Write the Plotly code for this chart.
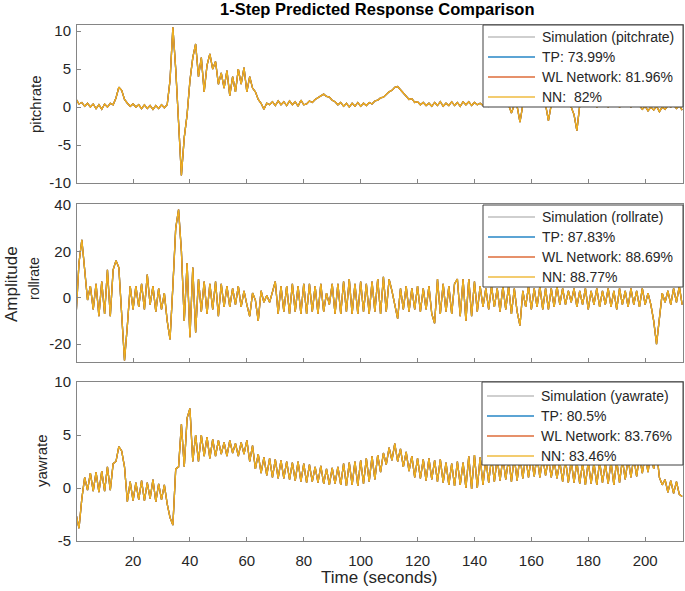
import plotly.graph_objects as go

# ---------------- data ----------------
TIME = list(range(0, 214))  # seconds, 1 s grid

PITCH = [
    1.0, 0.4, 0.6, 0.1, 0.5, 0.0, 0.4, -0.2, 0.3, -0.3,
    0.4, 0.0, 0.5, 0.3, 1.2, 2.6, 2.2, 1.0, 0.5, 0.1,
    0.4, 0.0, 0.3, -0.2, 0.3, -0.2, 0.2, -0.3, 0.2, -0.2,
    0.3, -0.1, 0.3, 3.5, 10.5, 5.0, -2.0, -9.0, -4.0, -1.0,
    3.5, 6.5, 8.3, 4.0, 6.5, 2.0, 5.5, 7.0, 5.0, 6.0,
    3.0, 4.5, 2.5, 4.8, 1.5, 4.0, 2.0, 5.0, 3.0, 5.2,
    2.0, 4.0, 2.5, 2.0, 1.0, 0.5, -0.3, 0.5, 0.3, 0.7,
    0.2, 0.8, 0.3, 0.7, 0.2, 0.8, 0.3, 0.7, 0.1, 0.9,
    0.3, 0.4, 0.8, 0.6, 1.0, 1.2, 1.4, 1.7, 1.4, 1.3,
    0.9, 0.7, 0.3, 0.6, 0.1, 0.5, 0.0, 0.5, 0.1, 0.6,
    0.1, 0.5, 0.2, 0.6, 0.4, 0.8, 0.9, 1.2, 1.3, 1.7,
    2.0, 2.2, 2.6, 2.7, 2.3, 1.8, 1.5, 1.0, 1.1, 0.6,
    0.7, 0.3, 0.6, 0.2, 0.5, 0.1, 0.6, 0.2, 0.7, 0.1,
    0.5, 0.2, 0.7, 0.2, 0.6, 0.1, 0.7, 0.3, 0.7, 0.2,
    0.6, 0.3, 0.5, 0.2, 0.5, 0.1, 0.4, 0.2, 0.4, 0.1,
    0.4, 0.2, 0.3, -0.8, 0.3, 0.1, -2.0, 0.3, 0.1, 0.4,
    0.2, 0.4, 0.1, 0.4, 0.2, 0.3, -1.8, 0.3, 0.2, 0.4,
    0.1, 0.4, 0.2, 0.3, 0.0, -1.0, -3.1, 0.2, 0.4, 0.1,
    0.3, 0.1, 0.4, 0.0, 0.3, 0.1, 0.3, 0.0, 0.3, 0.1,
    0.4, 0.0, 0.3, 0.1, 0.3, 0.0, 0.3, 0.1, 0.2, -0.3,
    0.1, -0.5, 0.0, -0.4, 0.1, -0.6, 0.0, -0.3, 0.2, 0.0,
    0.3, -0.2, 0.2, -0.4,
]

ROLL = [
    -7, 15, 25, 12, -1, 5, -5, 6, -8, 7,
    -7, 12, -8, 12, 16, 13, -8, -27, -12, 5,
    -5, 5, -4, 6, -5, 10, -3, 5, -6, 4,
    -5, 2, -10, -18, 5, 30, 38, 20, -10, 15,
    -17, 13, -15, 8, -6, 7, -7, 6, -5, 7,
    -8, 6, -4, 5, -4, 4, -3, 5, -4, 3,
    -3, -8, 2, -1, -10, 3, -2, 1, -2, 2,
    7, -7, 5, -6, 5, -7, 6, -6, 5, -7,
    6, -7, 6, -6, 5, -7, 6, -6, 2, -3,
    6, -7, 6, -7, 7, -6, 8, -7, 6, -7,
    7, -6, 6, -7, 7, -6, 8, -7, 9, -6,
    8, 3, -3, -9, 4, -5, 5, -6, 4, -5,
    5, -6, 4, -5, 5, -7, -11, 8, -7, 6,
    -6, 5, -7, 6, 8, -8, 8, -10, 8, -8,
    7, -6, 5, -4, 4, -5, 5, -4, 4, -6,
    5, -5, 5, -7, 4, -6, -12, 3, -4, 5,
    -5, 4, -4, 5, -5, 4, -5, 4, -4, 5,
    -3, 4, -3, 3, -2, 4, -4, 3, -3, 4,
    -5, 3, -3, 4, -4, 3, -3, 4, -4, 3,
    -5, 4, -3, 3, -4, 4, -3, 3, -4, 4,
    -3, 2, -3, -10, -20, -8, 2, -2, 3, -3,
    4, -2, 5, -3,
]

YAW = [
    -2.5, -3.8, -1.0, 1.0, -0.2, 1.4, -0.3, 1.5, -0.4, 1.6,
    -0.3, 2.0, -0.2, 2.3, 2.5, 3.9, 3.5, 2.0, -1.3, 0.6,
    -1.2, 0.5, -1.1, 0.7, -1.2, 0.5, -1.0, 0.8, -1.3, 0.4,
    -1.1, 0.3, -1.5, -2.8, -3.5, 1.8, 2.0, 6.0, 2.0, 6.6,
    7.5, 2.5, 5.0, 2.5, 5.0, 3.0, 4.8, 2.8, 4.6, 3.0,
    4.5, 3.2, 4.3, 3.0, 4.5, 3.3, 4.2, 3.0, 4.3, 3.2,
    4.5, 2.5, 4.0, 1.8, 3.2, 1.4, 2.9, 1.2, 2.8, 1.0,
    2.7, 0.9, 2.6, 0.9, 2.5, 0.8, 2.4, 0.7, 2.5, 0.6,
    2.3, 0.5, 2.2, 0.6, 2.0, 0.5, 2.1, 0.4, 1.8, 0.3,
    1.9, 0.4, 2.0, 0.3, 2.3, 0.2, 2.4, 0.3, 2.5, 0.2,
    2.6, 0.4, 2.8, 0.6, 3.0, 0.8, 3.1, 1.5, 3.3, 2.2,
    3.8, 2.6, 4.2, 2.5, 3.7, 2.0, 3.4, 1.6, 3.0, 1.0,
    2.8, 0.9, 2.7, 0.7, 2.8, 0.8, 2.6, 0.6, 2.7, 0.5,
    2.4, 0.3, 2.3, 0.2, 2.5, 0.3, 2.4, 0.0, 3.0, -0.1,
    3.1, 0.0, 2.9, 0.3, 2.8, 0.5, 2.9, 0.6, 2.8, 0.7,
    2.9, 0.8, 2.8, 0.6, 2.9, 0.7, 3.0, 0.9, 3.0, 1.0,
    2.9, 1.1, 3.0, 1.0, 2.9, 1.2, 2.8, 1.0, 2.6, 0.9,
    2.5, 0.6, 2.7, 0.5, 2.6, 0.5, 2.5, 0.4, 2.4, 0.3,
    2.5, 0.4, 2.4, 0.3, 2.5, 0.5, 2.3, 0.4, 2.5, 0.3,
    2.6, 0.5, 2.7, 0.8, 2.8, 1.0, 2.9, 1.1, 3.0, 1.4,
    3.1, 1.5, 3.3, 1.8, 3.5, 1.0, 0.3, 0.8, -0.4, 0.7,
    -0.5, 0.6, -0.6, -0.8,
]

CHANNELS = ["pitchrate", "rollrate", "yawrate"]
FIT_TP = ["73.99%", "87.83%", "80.5%"]
FIT_WL = ["81.96%", "88.69%", "83.76%"]
FIT_NN = [" 82%", "88.77%", "83.46%"]

X_TICKS = [20, 40, 60, 80, 100, 120, 140, 160, 180, 200]
Y_TICKS = [[-10, -5, 0, 5, 10], [-20, 0, 20, 40], [-5, 0, 5, 10]]
Y_TICKTEXT = [["-10", "-5", "0", "5", "10"], ["-20", "0", "20", "40"], ["-5", "0", "5", "10"]]

# ---------------- styling ----------------
FONT = "Liberation Sans, Arial, Helvetica, sans-serif"
C_SIM = "#b4b4b4"
C_TP = "#0072BD"
C_WL = "#D95319"
C_NN = "#EDB120"
AX_COL = "#858585"
TXT = "#262626"

W, H = 685, 591
L, R, T, B = 77, 2, 25, 50
PW = W - L - R
PH = H - T - B

# subplot pixel bands (top, bottom)
BANDS = [(25, 183), (204, 362), (382, 541)]
Y_RANGES = [[-10, 10.8], [-27.7, 40.4], [-5, 10]]
# legend boxes (left, top, bottom) and item centres in pixels
LEG_BOX = [(483, 25, 107), (483, 205, 287), (482, 382, 465)]
LEG_ITEMS = [[37, 57, 77, 97], [217, 237, 257, 277], [396, 416, 436, 456]]


def px_x(px):
    return (px - L) / PW


def px_y(py):
    return (H - B - py) / PH


fig = go.Figure()
series = [PITCH, ROLL, YAW]
shapes = []
ann = []

for i, (vals, ch) in enumerate(zip(series, CHANNELS)):
    xa = "x" if i == 0 else f"x{i+1}"
    ya = "y" if i == 0 else f"y{i+1}"
    specs = [
        (f"Simulation ({ch})", C_SIM, vals),
        (f"TP: {FIT_TP[i]}", C_TP, vals),
        (f"WL Network: {FIT_WL[i]}", C_WL, vals),
        (f"NN: {FIT_NN[i]}", C_NN, vals),
    ]
    for name, col, v in specs:
        fig.add_trace(go.Scatter(
            x=TIME, y=v, mode="lines", name=name,
            line=dict(color=col, width=1.3),
            xaxis=xa, yaxis=ya, showlegend=False,
        ))
    # legend box
    lx, lt, lb = LEG_BOX[i]
    shapes.append(dict(type="rect", xref="paper", yref="paper",
                       x0=px_x(lx), x1=px_x(683), y0=px_y(lb), y1=px_y(lt),
                       line=dict(color="#404040", width=1), fillcolor="white", layer="above"))
    for (name, col, _), cy in zip(specs, LEG_ITEMS[i]):
        shapes.append(dict(type="line", xref="paper", yref="paper",
                           x0=px_x(lx + 5), x1=px_x(lx + 52), y0=px_y(cy), y1=px_y(cy),
                           line=dict(color=col, width=1.6), opacity=0.85, layer="above"))
        ann.append(dict(text=name, x=px_x(lx + 57), y=px_y(cy), xanchor="left", yanchor="middle",
                        font=dict(size=14, color=TXT)))

layout = dict(
    width=W, height=H,
    margin=dict(l=L, r=R, t=T, b=B),
    paper_bgcolor="white", plot_bgcolor="white",
    font=dict(family=FONT, size=14, color=TXT),
    showlegend=False,
)

for i in range(3):
    top, bot = BANDS[i]
    xk = "xaxis" if i == 0 else f"xaxis{i+1}"
    yk = "yaxis" if i == 0 else f"yaxis{i+1}"
    ya = "y" if i == 0 else f"y{i+1}"
    layout[xk] = dict(
        domain=[0, 1], anchor=ya, range=[0.3, 213.3],
        showline=True, mirror=True, linecolor=AX_COL, linewidth=1,
        ticks="inside", ticklen=4, tickcolor=AX_COL,
        tickvals=X_TICKS, showgrid=False, zeroline=False,
        showticklabels=(i == 2), ticklabelstandoff=6,
        tickfont=dict(size=15, color=TXT),
    )
    layout[yk] = dict(
        domain=[px_y(bot), px_y(top)], anchor="x" if i == 0 else f"x{i+1}",
        range=Y_RANGES[i],
        showline=True, mirror=True, linecolor=AX_COL, linewidth=1,
        ticks="inside", ticklen=4, tickcolor=AX_COL,
        tickvals=Y_TICKS[i], ticktext=Y_TICKTEXT[i],
        showgrid=False, zeroline=False, ticklabelstandoff=2,
        tickfont=dict(size=15, color=TXT),
    )

fig.update_layout(**layout)

ann += [
    dict(text="<b>1-Step Predicted Response Comparison</b>", x=px_x(377), y=px_y(9.5),
         xanchor="center", yanchor="middle", font=dict(size=16.5, color="#000000")),
    dict(text="Time (seconds)", x=px_x(379), y=px_y(577), xanchor="center", yanchor="middle",
         font=dict(size=17, color=TXT)),
    dict(text="pitchrate", x=px_x(35), y=px_y(104), xanchor="center", yanchor="middle",
         textangle=-90, font=dict(size=15, color=TXT)),
    dict(text="Amplitude", x=px_x(11), y=px_y(284), xanchor="center", yanchor="middle",
         textangle=-90, font=dict(size=17, color=TXT)),
    dict(text="rollrate", x=px_x(34), y=px_y(279), xanchor="center", yanchor="middle",
         textangle=-90, font=dict(size=14, color=TXT)),
    dict(text="yawrate", x=px_x(41), y=px_y(461), xanchor="center", yanchor="middle",
         textangle=-90, font=dict(size=15, color=TXT)),
]
for a in ann:
    a.update(xref="paper", yref="paper", showarrow=False)
fig.update_layout(annotations=ann, shapes=shapes)

fig.write_html(
    "out.html",
    config={"displayModeBar": False},
    post_script="document.body.style.margin='0px';document.body.style.padding='0px';",
)
